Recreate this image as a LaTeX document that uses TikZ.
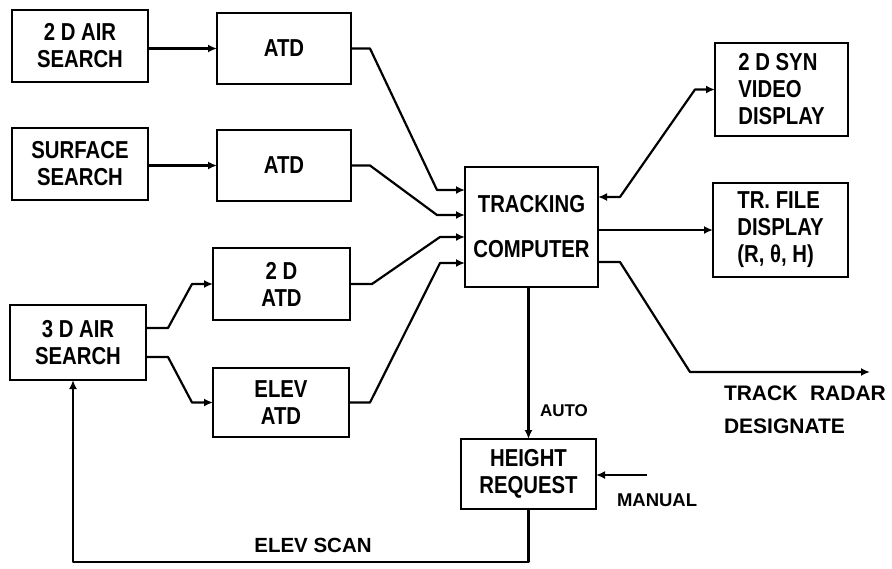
\documentclass[tikz,border=0pt]{standalone}
\usepackage{fontspec}
\setmainfont[FakeStretch=0.83]{Liberation Sans}
\newfontfamily\labfont{Liberation Sans}
\usetikzlibrary{arrows.meta,calc}
\begin{document}
\begin{tikzpicture}[x=1pt,y=-1pt,
  box/.style={draw,line width=2.6pt,inner sep=0pt,outer sep=0pt,font=\fontsize{24.5}{27}\selectfont\bfseries},
  lab/.style={inner sep=0pt,outer sep=0pt},
  conn/.style={line width=2.2pt,line join=round},
  arr/.style={conn,-{Latex[length=9pt,width=8pt]}},
  barr/.style={conn,{Latex[length=9pt,width=8pt]}-{Latex[length=9pt,width=8pt]}}]
\useasboundingbox (0,0) rectangle (892,568);
\fill[white] (0,0) rectangle (892,568);
% boxes
\node[box,minimum width=136pt,minimum height=72pt,align=center] (a2d) at (80,46) {2 D AIR\\SEARCH};
\node[box,minimum width=134pt,minimum height=71pt] (atd1) at (284,48.5) {ATD};
\node[box,minimum width=136pt,minimum height=72pt,align=center] (surf) at (80,164) {SURFACE\\SEARCH};
\node[box,minimum width=134pt,minimum height=71pt] (atd2) at (284,165.5) {ATD};
\node[box,minimum width=137pt,minimum height=72pt,align=center] (atdtwo) at (281.5,284) {2 D\\ATD};
\node[box,minimum width=136pt,minimum height=75pt,align=center] (a3d) at (78,342.5) {3 D AIR\\SEARCH};
\node[box,minimum width=136pt,minimum height=69pt,align=center] (elev) at (281,402.5) {ELEV\\ATD};
\node[box,minimum width=133pt,minimum height=120pt,align=center] (tc) at (531.5,227) {TRACKING\\[18pt]COMPUTER};
\node[box,minimum width=133pt,minimum height=93pt,align=left] (syn) at (781.5,89.5) {2 D SYN\\VIDEO\\DISPLAY};
\node[box,minimum width=135pt,minimum height=94pt,align=left] (trf) at (780.5,230) {TR. FILE\\DISPLAY\\(R, θ, H)};
\node[box,minimum width=135pt,minimum height=70pt,align=center] (hr) at (528.5,474) {HEIGHT\\REQUEST};
% free ends
\coordinate (trd) at (870,372);
\coordinate (man) at (647,475);
\coordinate (es) at (73,562);
% labels
\node[lab,anchor=north west,align=left,font=\labfont\fontsize{21}{33}\selectfont\bfseries] (trdlab) at (724,386) {TRACK\hspace{0.6em}RADAR\\DESIGNATE};
\node[lab,anchor=west,font=\labfont\fontsize{17}{20}\selectfont\bfseries] (auto) at (540,411) {AUTO};
\node[lab,anchor=west,font=\labfont\fontsize{18.5}{20}\selectfont\bfseries] (manlab) at (617,500) {MANUAL};
\node[lab,font=\labfont\fontsize{20.5}{20}\selectfont\bfseries] (eslab) at (313,545) {ELEV SCAN};
% connectors
\draw[arr] (a2d.east |- atd1.west) -- (atd1.west);
\draw[arr] (surf.east |- atd2.west) -- (atd2.west);
\draw[arr] (atd1.east) -- ++(19,0) -- ($(tc.west)+(-28,-37)$) -- ($(tc.west)+(0,-37)$);
\draw[arr] (atd2.east) -- ++(19,0) -- ($(tc.west)+(-28,-12)$) -- ($(tc.west)+(0,-12)$);
\draw[arr] (atdtwo.east) -- ++(22,0) -- ($(tc.west)+(-25,10)$) -- ($(tc.west)+(0,10)$);
\draw[arr] (elev.east) -- ++(21,0) -- ($(tc.west)+(-25,36)$) -- ($(tc.west)+(0,36)$);
\draw[arr] ($(a3d.east)+(0,-14.5)$) -- ++(22,0) -- ($(atdtwo.west)+(-21,0)$) -- (atdtwo.west);
\draw[arr] ($(a3d.east)+(0,14.5)$) -- ++(22,0) -- ($(elev.west)+(-21,0)$) -- (elev.west);
\draw[barr] ($(tc.east)+(0,-30)$) -- ++(22,0) -- ($(syn.west)+(-20,0)$) -- (syn.west);
\draw[arr] (tc.east |- trf.west) -- (trf.west);
\draw[arr] ($(tc.east)+(0,35)$) -- ++(22,0) -- ($(trd)+(-180,0)$) -- (trd);
\draw[arr] (hr.north |- tc.south) -- (hr.north);
\draw[arr] (man) -- (man -| hr.east);
\draw[arr] (hr.south) -- (hr.south |- es) -- (es) -- (es |- a3d.south);
\end{tikzpicture}
\end{document}
